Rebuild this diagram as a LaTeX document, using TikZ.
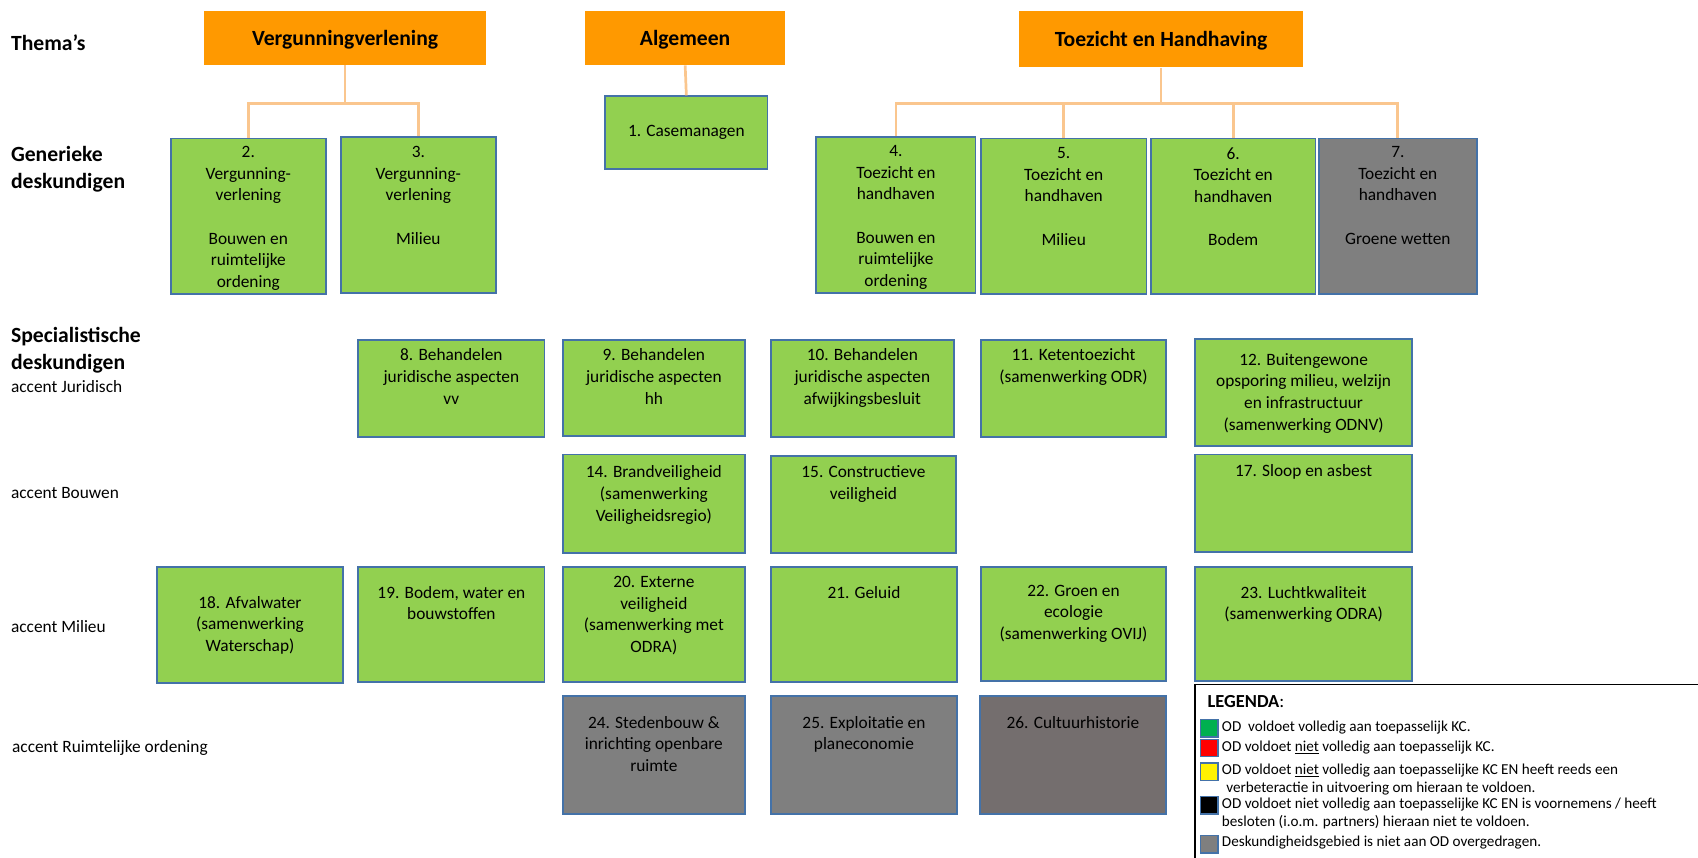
\documentclass[tikz,border=0pt]{standalone}
\usepackage{fontspec}
\setmainfont{Carlito}
\usepackage{tikz}
\usetikzlibrary{positioning}

\definecolor{themaoranje}{RGB}{255,153,0}
\definecolor{lijnoranje}{RGB}{250,198,142}
\definecolor{kcgroen}{RGB}{146,208,80}
\definecolor{kcrand}{RGB}{68,114,168}
\definecolor{kcgrijs}{RGB}{127,127,127}
\definecolor{kcdonker}{RGB}{116,110,110}
\definecolor{leggroen}{RGB}{0,176,80}

\tikzset{
  thema/.style={fill=themaoranje, anchor=north west, inner sep=0pt, text depth=0pt, font=\fontsize{20}{24}\selectfont\bfseries},
  deskbox/.style={draw=kcrand, line width=1.6pt, fill=kcgroen, anchor=north west, inner sep=0pt, align=center, font=\fontsize{16}{20}\selectfont},
  nietover/.style={deskbox, fill=kcgrijs},
  boxtekst/.style={anchor=north, inner sep=0pt, align=center, font=\fontsize{16}{20}\selectfont},
  lijn/.style={draw=lijnoranje, line width=2.5pt},
  kop/.style={anchor=west, align=left, inner sep=0pt, font=\fontsize{20}{25}\selectfont\bfseries},
  accent/.style={anchor=west, inner sep=0pt, font=\fontsize{16}{20}\selectfont},
  kleur/.style={draw=kcrand, line width=1.2pt, fill=#1, minimum width=16pt, minimum height=16pt, inner sep=0pt, anchor=north west},
  legtekst/.style={anchor=north west, align=left, inner sep=0pt, font=\fontsize{14}{16.5}\selectfont},
}

\begin{document}
\begin{tikzpicture}[x=1pt, y=-1pt]
\useasboundingbox (0,0) rectangle (1568,792);

% rijen
\node[kop] (themas) at (10,39) {Thema’s};
\node[kop] (generiek) at (10,156) {Generieke\\deskundigen};
\node[kop] (specialist) at (10,323) {Specialistische\\deskundigen};
\node[accent] (jur) at (10,357) {accent Juridisch};
\node[accent] (bouw) at (10,455) {accent Bouwen};
\node[accent] (mil) at (10,579) {accent Milieu};
\node[accent] (ro) at (11,691) {accent Ruimtelijke ordening};

% thema's
\node[thema, minimum width=261pt, minimum height=50pt] (vv) at (188,10) {Vergunningverlening};
\node[thema, minimum width=185pt, minimum height=50pt] (alg) at (540,10) {Algemeen};
\node[thema, minimum width=262pt, minimum height=52pt] (th) at (941,10) {Toezicht en Handhaving};

% generieke deskundigen
\node[deskbox, minimum width=150pt, minimum height=67pt] (g1) at (558,88) {1. Casemanagen};
\node[deskbox, minimum width=143pt, minimum height=144pt, label={[boxtekst, yshift=-8pt]north:{2.\\Vergunning-\\verlening\\[20pt]Bouwen en\\ruimtelijke\\ordening}}] (g2) at (157,127) {};
\node[deskbox, minimum width=143pt, minimum height=144pt, label={[boxtekst, yshift=-9pt]north:{3.\\Vergunning-\\verlening\\[20pt]Milieu}}] (g3) at (314,126) {};
\node[deskbox, minimum width=147pt, minimum height=144pt, label={[boxtekst, yshift=-8pt]north:{4.\\Toezicht en\\handhaven\\[20pt]Bouwen en\\ruimtelijke\\ordening}}] (g4) at (753,126) {};
\node[deskbox, minimum width=153pt, minimum height=144pt, label={[boxtekst, yshift=-9pt]north:{5.\\Toezicht en\\handhaven\\[20pt]Milieu}}] (g5) at (905,127) {};
\node[deskbox, minimum width=152pt, minimum height=144pt, label={[boxtekst, yshift=-9pt]north:{6.\\Toezicht en\\handhaven\\[20pt]Bodem}}] (g6) at (1062,127) {};
\node[nietover, minimum width=146pt, minimum height=144pt, label={[boxtekst, yshift=-8pt]north:{7.\\Toezicht en\\handhaven\\[20pt]Groene wetten}}] (g7) at (1217,127) {};

\draw[lijn] (vv.south) -- ++(0,35) coordinate (vvsplit);
\draw[lijn] (vvsplit) -| (g2.north);
\draw[lijn] (vvsplit) -| (g3.north);
\draw[lijn] (alg.south) -- (g1.north);
\draw[lijn] (th.south) -- ++(0,33) coordinate (thsplit);
\foreach \g in {g4,g5,g6,g7}
  \draw[lijn] (thsplit) -| (\g.north);

% accent juridisch
\node[deskbox, minimum width=172pt, minimum height=90pt, label={[boxtekst, yshift=-9pt]north:{8. Behandelen\\juridische aspecten\\vv}}] (s8) at (330,313) {};
\node[deskbox, minimum width=168pt, minimum height=89pt, label={[boxtekst, yshift=-9pt]north:{9. Behandelen\\juridische aspecten\\hh}}] (s9) at (519,313) {};
\node[deskbox, minimum width=169pt, minimum height=90pt, label={[boxtekst, yshift=-9pt]north:{10. Behandelen\\juridische aspecten\\afwijkingsbesluit}}] (s10) at (711,313) {};
\node[deskbox, minimum width=171pt, minimum height=90pt, label={[boxtekst, yshift=-9pt]north:{11. Ketentoezicht\\(samenwerking ODR)}}] (s11) at (905,313) {};
\node[deskbox, minimum width=200pt, minimum height=99pt, label={[boxtekst, yshift=-14pt]north:{12. Buitengewone\\opsporing milieu, welzijn\\en infrastructuur\\(samenwerking ODNV)}}] (s12) at (1103,312) {};

% accent bouwen
\node[deskbox, minimum width=168pt, minimum height=91pt, label={[boxtekst, yshift=-11pt]north:{14. Brandveiligheid\\(samenwerking\\Veiligheidsregio)}}] (s14) at (519,419) {};
\node[deskbox, minimum width=171pt, minimum height=90pt, label={[boxtekst, yshift=-10pt]north:{15. Constructieve\\veiligheid}}] (s15) at (711,420) {};
\node[deskbox, minimum width=200pt, minimum height=90pt, label={[boxtekst, yshift=-10pt]north:{17. Sloop en asbest}}] (s17) at (1103,419) {};

% accent milieu
\node[deskbox, minimum width=172pt, minimum height=107pt] (s18) at (144,523) {18. Afvalwater\\(samenwerking\\Waterschap)};
\node[deskbox, minimum width=172pt, minimum height=106pt, label={[boxtekst, yshift=-18pt]north:{19. Bodem, water en\\bouwstoffen}}] (s19) at (330,523) {};
\node[deskbox, minimum width=168pt, minimum height=106pt, label={[boxtekst, yshift=-9pt]north:{20. Externe\\veiligheid\\(samenwerking met\\ODRA)}}] (s20) at (519,523) {};
\node[deskbox, minimum width=172pt, minimum height=106pt, label={[boxtekst, yshift=-18pt]north:{21. Geluid}}] (s21) at (711,523) {};
\node[deskbox, minimum width=171pt, minimum height=105pt, label={[boxtekst, yshift=-17pt]north:{22. Groen en\\ecologie\\(samenwerking OVIJ)}}] (s22) at (905,523) {};
\node[deskbox, minimum width=200pt, minimum height=105pt, label={[boxtekst, yshift=-18pt]north:{23. Luchtkwaliteit\\(samenwerking ODRA)}}] (s23) at (1103,523) {};

% accent ruimtelijke ordening
\node[nietover, minimum width=168pt, minimum height=109pt, label={[boxtekst, yshift=-19pt]north:{24. Stedenbouw \&\\inrichting openbare\\ruimte}}] (s24) at (519,642) {};
\node[nietover, minimum width=172pt, minimum height=109pt, label={[boxtekst, yshift=-19pt]north:{25. Exploitatie en\\planeconomie}}] (s25) at (711,642) {};
\node[nietover, fill=kcdonker, minimum width=172pt, minimum height=109pt, label={[boxtekst, yshift=-19pt]north:{26. Cultuurhistorie}}] (s26) at (904,642) {};

% legenda
\node[draw=black, line width=1pt, anchor=north west, minimum width=480pt, minimum height=170pt, inner sep=0pt] (legenda) at (1103,632) {};
\node[anchor=west, inner sep=0pt, font=\fontsize{17}{20}\selectfont] (legkop) at (1115,648) {\textbf{LEGENDA}:};
\node[kleur=leggroen] (lg1) at (1108,664) {};
\node[kleur=red] (lg2) at (1108,682) {};
\node[kleur=yellow] (lg3) at (1108,704) {};
\node[kleur=black] (lg4) at (1108,735) {};
\node[kleur=kcgrijs] (lg5) at (1108,771) {};
\node[legtekst] (lt1) at ([xshift=3pt,yshift=-2pt]lg1.north east) {OD\ \ voldoet volledig aan toepasselijk KC.};
\node[legtekst] (lt2) at ([xshift=3pt,yshift=-2pt]lg2.north east) {OD voldoet \underline{niet} volledig aan toepasselijk KC.};
\node[legtekst] (lt3) at ([xshift=3pt,yshift=-1pt]lg3.north east) {OD voldoet \underline{niet} volledig aan toepasselijke KC EN heeft reeds een\\\hspace{4pt}verbeteractie in uitvoering om hieraan te voldoen.};
\node[legtekst] (lt4) at ([xshift=3pt,yshift=-2pt]lg4.north east) {OD voldoet niet volledig aan toepasselijke KC EN is voornemens / heeft\\besloten (i.o.m. partners) hieraan niet te voldoen.};
\node[legtekst] (lt5) at ([xshift=3pt,yshift=-1pt]lg5.north east) {Deskundigheidsgebied is niet aan OD overgedragen.};

\end{tikzpicture}
\end{document}
